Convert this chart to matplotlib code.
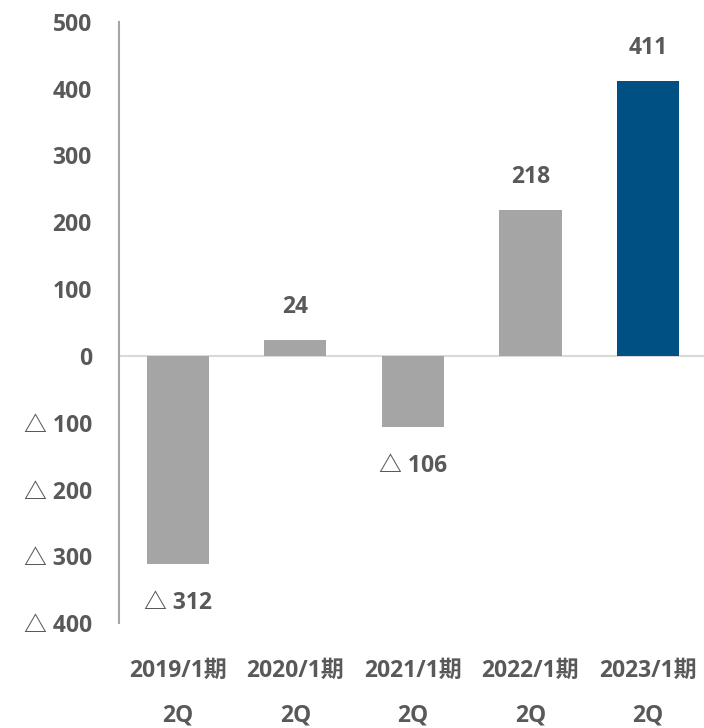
import matplotlib.pyplot as plt
import numpy as np

# データ
categories = ["2019/1期\n2Q", "2020/1期\n2Q", "2021/1期\n2Q", "2022/1期\n2Q", "2023/1期\n2Q"]
values = [-312, 24, -106, 218, 411]
bar_colors = ["#A5A5A5", "#A5A5A5", "#A5A5A5", "#A5A5A5", "#005083"]
yticks = [-400, -300, -200, -100, 0, 100, 200, 300, 400, 500]

plt.rcParams['font.family'] = ['Open Sans', 'Noto Sans CJK JP', 'DejaVu Sans']
text_color = "#595959"
fs = 16.5
fw = "bold"


def fmt(v):
    return f"△ {abs(v)}" if v < 0 else f"{v}"


fig = plt.figure(figsize=(7.04, 7.28), dpi=100)
ax = fig.add_axes([0.169, 0.144, 0.835, 0.826])

x = np.arange(len(categories))
ax.bar(x, values, width=0.53, color=bar_colors, zorder=2)

for xi, v in zip(x, values):
    off = 24 if v >= 0 else -28
    ax.annotate(fmt(v), (xi, v), xytext=(0, off), textcoords="offset points",
                ha="center", va="center", fontsize=fs, fontweight=fw, color=text_color)

ax.set_xlim(-0.5, len(categories) - 0.5)
ax.set_ylim(-400, 500)
ax.set_yticks(yticks)
ax.set_yticklabels([fmt(v) for v in yticks], fontsize=fs, fontweight=fw, color=text_color)
ax.set_xticks(x)
ax.set_xticklabels(categories, fontsize=fs, fontweight=fw, color=text_color, linespacing=2.1)

ax.axhline(0, color="#D9D9D9", linewidth=1.5, zorder=1)
for s in ["top", "right", "bottom"]:
    ax.spines[s].set_visible(False)
ax.spines["left"].set_color("#A6A6A6")
ax.spines["left"].set_linewidth(1.5)
ax.tick_params(axis="both", length=0)
ax.tick_params(axis="y", pad=19.5)
ax.tick_params(axis="x", pad=26)

plt.savefig("out.png", dpi=100)
plt.close()
